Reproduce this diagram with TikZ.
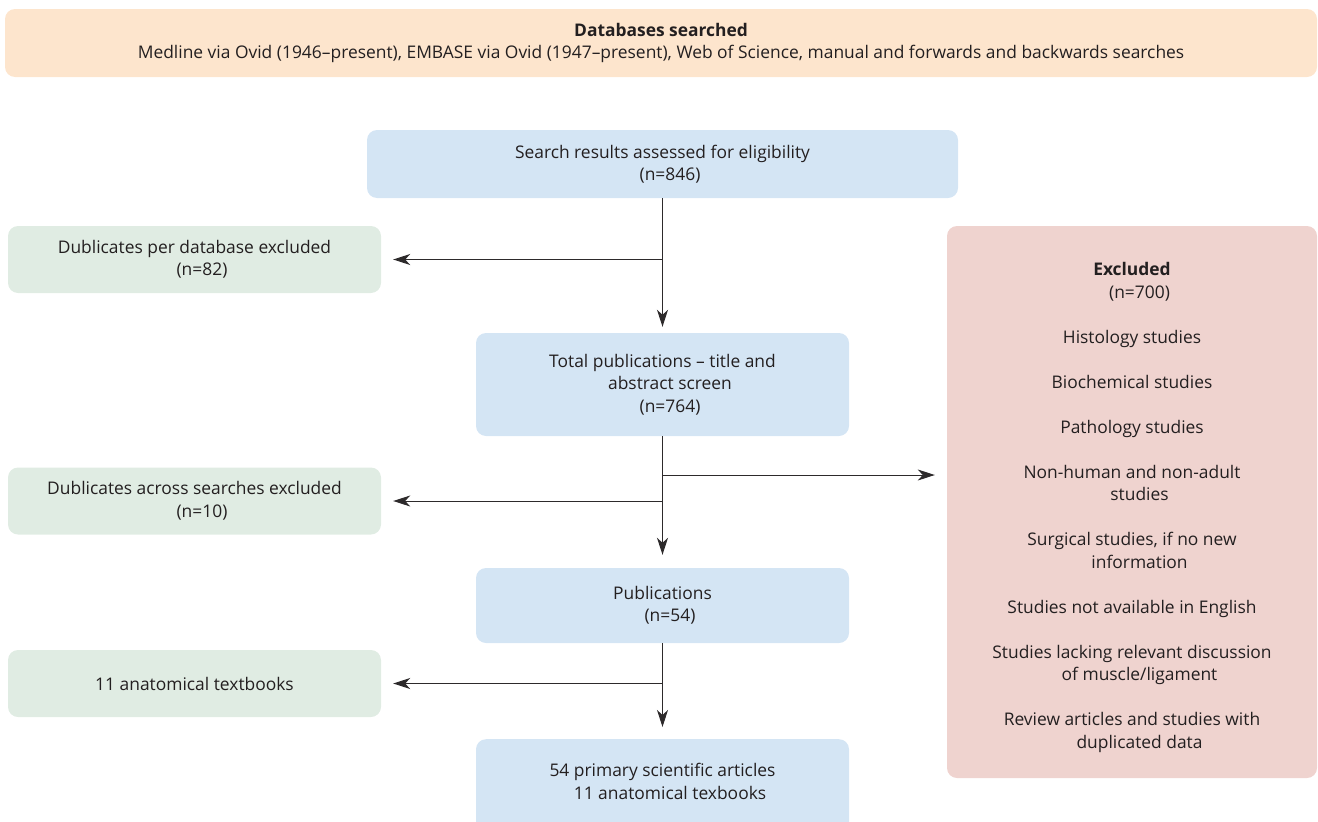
\documentclass[tikz,border=0pt]{standalone}
\usepackage{fontspec}
\setmainfont{Open Sans}
\usetikzlibrary{arrows.meta}

\definecolor{boxblue}{RGB}{212,229,244}
\definecolor{boxgreen}{RGB}{224,236,227}
\definecolor{boxorange}{RGB}{253,229,205}
\definecolor{boxred}{RGB}{239,211,207}
\definecolor{txtgray}{RGB}{35,31,32}
\definecolor{linegray}{RGB}{45,42,43}

\newcommand{\flowfont}{\fontsize{17.4}{22.5}\selectfont}
\newcommand{\cont}{\hspace*{15pt}} % eingerueckte Folgezeile

\tikzset{
  box/.style={rounded corners=10pt, inner sep=0pt, align=center, font=\flowfont, text=txtgray},
  mainbox/.style={box, fill=boxblue, minimum width=373pt},
  outbox/.style={box, fill=boxgreen, minimum width=373pt, minimum height=67pt},
  arr/.style={draw=linegray, line width=1pt, -{Stealth[length=17pt,width=11pt,inset=5pt]}}
}

\begin{document}
\begin{tikzpicture}[x=1pt, y=-1pt]
  \useasboundingbox (0,0) rectangle (1318,822);

  % Kopfzeile
  \node[box, fill=boxorange, minimum width=1312pt, minimum height=68pt] (db) at (661,43)
    {\textbf{Databases searched}\\Medline via Ovid (1946--present), EMBASE via Ovid (1947--present), Web of Science, manual and forwards and backwards searches};

  % Hauptstrang
  \node[mainbox, minimum width=591pt, minimum height=68pt] (search) at (662.5,164)
    {Search results assessed for eligibility\\\cont(n=846)};
  \node[mainbox, minimum height=103pt] (total) at (662.5,384.5)
    {Total publications -- title and\\\cont abstract screen\\\cont(n=764)};
  \node[mainbox, minimum height=75pt] (pubs) at (662.5,605.5)
    {Publications\\\cont(n=54)};
  \node[mainbox, anchor=north, inner ysep=24pt, text depth=80pt] (final) at (662.5,739)
    {54 primary scientific articles\\\cont 11 anatomical texbooks};

  % Ausschluesse links
  \node[outbox] (dupdb) at (194.5,259.5) {Dublicates per database excluded\\\cont(n=82)};
  \node[outbox] (dupsr) at (194.5,501) {Dublicates across searches excluded\\\cont(n=10)};
  \node[outbox] (books) at (194.5,683.5) {11 anatomical textbooks};

  % Ausschluesse rechts
  \node[box, fill=boxred, minimum width=370pt, minimum height=552pt] (excl) at (1132,502)
    {\rule{0pt}{24pt}\textbf{Excluded}\\\cont(n=700)\\[22.5pt]
     Histology studies\\[22.5pt]
     Biochemical studies\\[22.5pt]
     Pathology studies\\[22.5pt]
     Non-human and non-adult\\\cont studies\\[22.5pt]
     Surgical studies, if no new\\\cont information\\[22.5pt]
     Studies not available in English\\[22.5pt]
     Studies lacking relevant discussion\\\cont of muscle/ligament\\[22.5pt]
     Review articles and studies with\\\cont duplicated data};

  \coordinate (split) at (662.5,475);

  % Pfeile
  \draw[arr, shorten >=6pt] (search) -- (total);
  \draw[arr, shorten >=12pt] (search.south |- dupdb.east) -- (dupdb.east);
  \draw[arr, shorten >=13pt] (total) -- (pubs);
  \draw[arr, shorten >=12pt] (total.south |- dupsr.east) -- (dupsr.east);
  \draw[arr, shorten >=12pt] (split) -- (split -| excl.west);
  \draw[arr, shorten >=12pt] (pubs.south) -- (pubs.south |- final.north);
  \draw[arr, shorten >=12pt] (pubs.south |- books.east) -- (books.east);
\end{tikzpicture}
\end{document}
